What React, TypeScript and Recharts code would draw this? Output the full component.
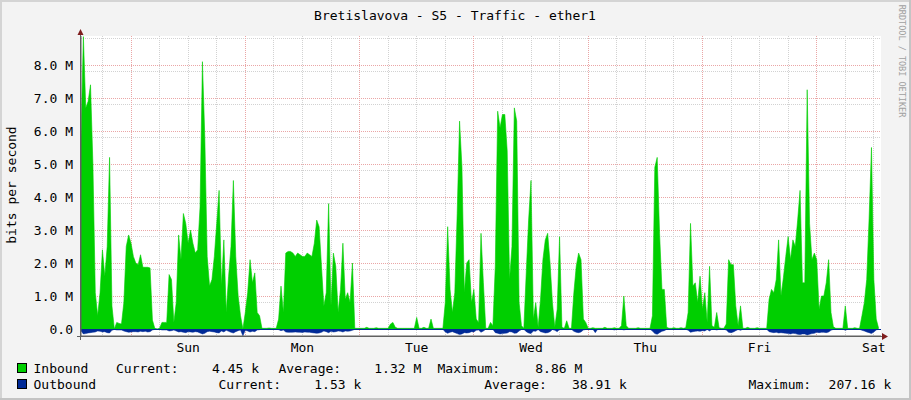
import { AreaChart, Area, XAxis, YAxis, CartesianGrid, ReferenceLine } from 'recharts'

const TITLE = 'Bretislavova - S5 - Traffic - ether1'
const FONT = '"DejaVu Sans Mono", monospace'

// one sample every 30 minutes, 7 days
const STEP_HOURS = 0.5

// inbound traffic, Mbit/s
const inboundM: number[] = [
  5.8, 8.86, 6.7, 6.9, 7.4, 5.0, 1.1, 0.4, 1.1, 2.4, 1.6, 2.5,
  5.2, 0.7, 0.0, 0.2, 0.17, 0.15, 0.8, 2.5, 2.85, 2.6, 2.2, 2.0,
  1.95, 2.25, 1.87, 1.87, 1.87, 1.85, 0.27, 0.02, 0.0, 0.02, 0.2, 0.2,
  0.2, 1.65, 1.5, 0.2, 0.8, 2.85, 2.1, 3.5, 3.2, 2.6, 3.0, 2.6,
  2.3, 2.4, 3.7, 8.1, 5.8, 2.2, 1.3, 1.5, 2.2, 3.2, 4.2, 1.3,
  2.7, 0.5, 1.6, 2.5, 4.5, 2.2, 1.0, 0.4, 0.0, 0.5, 1.1, 2.1,
  1.4, 1.7, 0.5, 0.4, 0.02, 0.02, 0.02, 0.03, 0.02, 0.02, 0.02, 0.3,
  1.3, 0.5, 2.3, 2.35, 2.35, 2.3, 2.2, 2.3, 2.25, 2.2, 2.2, 2.3,
  2.25, 2.2, 2.6, 3.3, 3.1, 1.9, 0.7, 1.1, 3.8, 0.7, 2.3, 1.9,
  0.5, 1.2, 2.6, 0.9, 1.1, 0.8, 2.0, 0.02, 0.02, 0.02, 0.02, 0.02,
  0.05, 0.02, 0.02, 0.02, 0.04, 0.02, 0.02, 0.02, 0.02, 0.02, 0.15, 0.2,
  0.05, 0.02, 0.02, 0.02, 0.02, 0.02, 0.02, 0.02, 0.02, 0.35, 0.02, 0.02,
  0.05, 0.02, 0.02, 0.3, 0.02, 0.02, 0.02, 0.02, 0.02, 0.8, 3.1, 1.2,
  0.5, 1.1, 3.5, 6.3, 4.9, 1.1, 2.0, 2.1, 0.8, 1.2, 0.3, 0.2,
  2.9, 1.4, 0.02, 0.02, 0.2, 0.1, 1.9, 6.6, 6.1, 6.5, 6.5, 5.4,
  1.5, 2.5, 6.7, 6.3, 0.8, 0.1, 0.02, 1.7, 3.3, 4.5, 0.3, 0.8,
  0.05, 0.9, 2.1, 2.7, 2.9, 2.0, 0.8, 0.05, 0.6, 2.8, 0.05, 0.02,
  0.25, 0.02, 0.02, 1.1, 1.9, 2.3, 2.1, 0.3, 0.2, 0.02, 0.02, 0.04,
  0.02, 0.02, 0.02, 0.02, 0.05, 0.02, 0.02, 0.02, 0.04, 0.02, 0.02, 0.1,
  1.0, 0.1, 0.02, 0.02, 0.02, 0.02, 0.04, 0.02, 0.02, 0.02, 0.02, 0.02,
  0.4, 4.9, 5.2, 2.9, 1.2, 1.2, 0.05, 0.02, 0.02, 0.04, 0.02, 0.02,
  0.04, 0.02, 0.04, 0.5, 3.2, 1.3, 1.4, 0.8, 1.6, 0.6, 1.1, 0.2,
  1.9, 0.1, 0.05, 0.5, 0.04, 0.02, 0.02, 0.15, 2.1, 1.95, 1.95, 0.7,
  0.1, 0.7, 0.02, 0.02, 0.05, 0.02, 0.02, 0.02, 0.04, 0.02, 0.02, 0.02,
  0.02, 0.9, 1.2, 1.1, 1.5, 2.7, 1.0, 1.55, 2.2, 2.8, 2.1, 2.7,
  2.5, 3.3, 4.2, 1.4, 1.4, 7.25, 3.2, 2.1, 2.3, 2.1, 0.6, 1.0,
  1.0, 1.4, 2.1, 0.5, 0.07, 0.02, 0.02, 0.02, 0.02, 0.7, 0.02, 0.02,
  0.02, 0.04, 0.02, 0.02, 0.4, 0.8, 1.5, 3.35, 5.5, 1.5, 0.3, 0.02,
]

// outbound traffic, kbit/s (drawn below zero)
const outboundK: number[] = [
  60, 150, 140, 120, 110, 100, 90, 60, 70, 90, 80, 110,
  120, 40, 10, 30, 30, 30, 60, 80, 100, 90, 80, 80,
  90, 70, 80, 70, 90, 80, 30, 8, 8, 8, 30, 30,
  30, 60, 50, 30, 60, 90, 80, 100, 110, 80, 90, 100,
  80, 90, 120, 150, 130, 80, 70, 80, 90, 110, 120, 60,
  90, 40, 70, 100, 120, 80, 50, 30, 207, 40, 60, 90,
  70, 80, 30, 20, 8, 8, 8, 8, 8, 8, 8, 20,
  50, 30, 90, 100, 100, 95, 90, 95, 100, 105, 90, 95,
  100, 110, 120, 130, 120, 100, 60, 80, 110, 70, 90, 80,
  60, 70, 90, 60, 70, 60, 40, 10, 8, 8, 8, 8,
  10, 8, 8, 8, 8, 8, 8, 8, 8, 8, 15, 15,
  8, 8, 8, 8, 8, 8, 8, 8, 8, 12, 8, 8,
  8, 8, 8, 12, 8, 8, 8, 8, 8, 90, 130, 100,
  80, 110, 140, 170, 150, 110, 120, 110, 80, 90, 40, 30,
  100, 60, 10, 8, 15, 10, 110, 130, 150, 140, 130, 120,
  80, 90, 130, 120, 60, 15, 8, 80, 120, 140, 60, 70,
  15, 80, 100, 120, 110, 80, 15, 40, 80, 15, 8, 8,
  15, 8, 8, 70, 100, 110, 90, 30, 15, 8, 8, 8,
  110, 8, 8, 8, 12, 8, 8, 8, 30, 8, 8, 8,
  30, 12, 8, 8, 8, 8, 8, 8, 8, 8, 8, 8,
  60, 140, 160, 110, 70, 50, 10, 8, 8, 8, 8, 8,
  8, 8, 8, 40, 100, 80, 70, 60, 70, 50, 60, 15,
  60, 10, 8, 30, 8, 8, 8, 30, 100, 110, 90, 50,
  15, 40, 8, 8, 12, 8, 8, 8, 8, 8, 8, 8,
  8, 80, 100, 110, 100, 120, 110, 120, 130, 140, 150, 130,
  140, 160, 170, 150, 150, 180, 160, 140, 130, 100, 110, 100,
  100, 110, 90, 40, 10, 8, 8, 8, 8, 40, 8, 8,
  8, 8, 8, 8, 40, 60, 90, 110, 140, 90, 30, 8,
]

// x axis: hours from the left edge of the graph
const dayLabels = ['Sun', 'Mon', 'Tue', 'Wed', 'Thu', 'Fri', 'Sat']
const dayLabelHours = [22.5, 46.5, 70.5, 94.5, 118.5, 142.5, 166.5]
const midnightHours = [10.5, 34.5, 58.5, 82.5, 106.5, 130.5, 154.5]

// y axis, bits per second
const yMajor = [0, 1e6, 2e6, 3e6, 4e6, 5e6, 6e6, 7e6, 8e6]

// legend: current / average / maximum
const inboundStats = ['4.45 k', '1.32 M', '8.86 M']
const outboundStats = ['1.53 k', '38.91 k', '207.16 k']

const IN_COLOR = '#00cf00'
const OUT_COLOR = '#002a97'

const chartData = inboundM.map((v, i) => ({
  t: i * STEP_HOURS,
  inbound: v * 1e6,
  outbound: -(outboundK[i] ?? 0) * 1e3,
}))

const minorHours: number[] = []
for (let h = 4.5; h <= 168; h += 6) {
  if (!midnightHours.includes(h)) minorHours.push(h)
}
const yMinor: number[] = []
for (let k = 1; k <= 44; k++) {
  if (k % 5 !== 0) yMinor.push(k * 0.2e6)
}

const fmtY = (v: number) => (v === 0 ? '0.0' : `${(v / 1e6).toFixed(1)} M`)
const fmtX = (v: number) => dayLabels[dayLabelHours.indexOf(v)] ?? ''

export default function App() {
  const txt = { fontFamily: FONT, fontSize: 13, fill: '#000' }
  return (
    <div
      style={{
        position: 'absolute',
        left: 0,
        top: 0,
        width: 911,
        height: 400,
        background: '#f3f3f3',
        overflow: 'hidden',
      }}
    >
      <style>
        {'.recharts-cartesian-grid line, .recharts-reference-line line { shape-rendering: crispEdges; }'}
      </style>
      <AreaChart
        width={911}
        height={400}
        data={chartData}
        margin={{ top: 36, right: 30, bottom: 44, left: 21 }}
      >
        <CartesianGrid
          horizontalValues={yMinor}
          verticalValues={minorHours}
          stroke="#d2d2d2"
          strokeDasharray="1 1"
          fill="#ffffff"
          fillOpacity={1}
        />
        <CartesianGrid
          horizontalValues={yMajor}
          verticalValues={midnightHours}
          stroke="#eaa6a6"
          strokeDasharray="1 1"
        />
        <XAxis
          type="number"
          dataKey="t"
          domain={[0, 168]}
          ticks={dayLabelHours}
          tickFormatter={fmtX}
          tickLine={false}
          tickSize={5}
          tickMargin={2}
          axisLine={{ stroke: '#606060' }}
          tick={txt}
          height={20}
          allowDataOverflow
        />
        <YAxis
          type="number"
          domain={[-0.2121e6, 8.8788e6]}
          ticks={yMajor}
          tickFormatter={fmtY}
          tickLine={false}
          axisLine={{ stroke: '#606060' }}
          tick={txt}
          width={60}
          allowDataOverflow
        />
        <Area
          type="linear"
          dataKey="inbound"
          fill={IN_COLOR}
          fillOpacity={1}
          stroke={IN_COLOR}
          strokeWidth={0.6}
          isAnimationActive={false}
          dot={false}
          activeDot={false}
        />
        <Area
          type="linear"
          dataKey="outbound"
          fill={OUT_COLOR}
          fillOpacity={1}
          stroke={OUT_COLOR}
          strokeWidth={0.5}
          isAnimationActive={false}
          dot={false}
          activeDot={false}
        />
        <ReferenceLine y={0} stroke={OUT_COLOR} strokeWidth={1} />
      </AreaChart>

      <svg
        width={911}
        height={400}
        style={{ position: 'absolute', left: 0, top: 0, pointerEvents: 'none' }}
      >
        {/* frame */}
        <rect x={0} y={0} width={911} height={2} fill="#d4d4d4" />
        <rect x={0} y={0} width={2} height={400} fill="#d4d4d4" />
        <rect x={0} y={398} width={911} height={2} fill="#c4c4c4" />
        <rect x={909} y={0} width={2} height={400} fill="#c4c4c4" />

        <text x={455} y={19.5} textAnchor="middle" {...txt}>
          {TITLE}
        </text>
        <text
          x={11}
          y={185}
          textAnchor="middle"
          dy="0.35em"
          transform="rotate(-90 11 185)"
          {...txt}
        >
          bits per second
        </text>
        <text
          x={901.5}
          y={61}
          textAnchor="middle"
          dy="0.35em"
          transform="rotate(90 901.5 61)"
          fontFamily={FONT}
          fontSize={8.5}
          fill="#a0a0a0"
        >
          RRDTOOL / TOBI OETIKER
        </text>

        {/* axis extensions and arrows */}
        <line x1={80.5} y1={31} x2={80.5} y2={340} stroke="#606060" />
        <line x1={77} y1={336.5} x2={884} y2={336.5} stroke="#606060" />
        <polygon points="77.5,35 83.5,35 80.5,29" fill="#7f1d1d" />
        <polygon points="882,333 882,340 888,336.5" fill="#7f1d1d" />

        {/* legend */}
        <rect x={17.5} y={363.5} width={9} height={9} fill={IN_COLOR} stroke="#000" />
        <rect x={17.5} y={379.5} width={9} height={9} fill={OUT_COLOR} stroke="#000" />
        <text x={33.5} y={373} {...txt}>Inbound</text>
        <text x={116} y={373} {...txt}>Current:</text>
        <text x={212} y={373} {...txt}>{inboundStats[0]}</text>
        <text x={278.5} y={373} {...txt}>Average:</text>
        <text x={374.3} y={373} {...txt}>{inboundStats[1]}</text>
        <text x={437.5} y={373} {...txt}>Maximum:</text>
        <text x={535.3} y={373} {...txt}>{inboundStats[2]}</text>

        <text x={33.5} y={389} {...txt}>Outbound</text>
        <text x={218.5} y={389} {...txt}>Current:</text>
        <text x={314.3} y={389} {...txt}>{outboundStats[0]}</text>
        <text x={484.3} y={389} {...txt}>Average:</text>
        <text x={572} y={389} {...txt}>{outboundStats[1]}</text>
        <text x={748.5} y={389} {...txt}>Maximum:</text>
        <text x={828.6} y={389} {...txt}>{outboundStats[2]}</text>
      </svg>
    </div>
  )
}
